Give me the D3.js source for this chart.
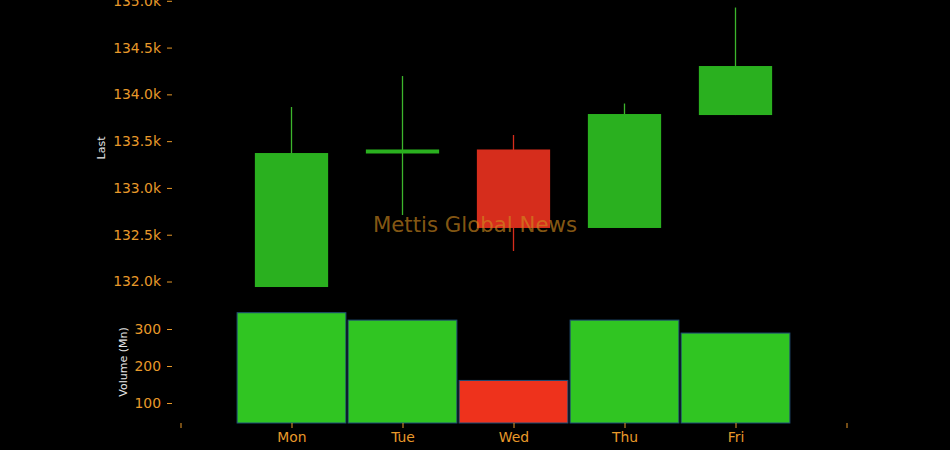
<!DOCTYPE html>
<html><head><meta charset="utf-8">
<script src="https://cdn.jsdelivr.net/npm/d3@7"></script>
<style>html,body{margin:0;padding:0;background:#000;}svg{display:block;}</style>
</head><body>
<script>
const days = ["Mon","Tue","Wed","Thu","Fri"];
const openV  = [131941, 133368, 133411, 132572, 133779];
const highV  = [133865, 134196, 133566, 133902, 134928];
const lowV   = [131941, 132711, 132326, 132572, 133779];
const closeV = [133373, 133411, 132572, 133790, 134303];
const volume = [344, 324, 161, 324, 289];
const priceTicks = [132000, 132500, 133000, 133500, 134000, 134500, 135000];
const volTicks = [100, 200, 300];

const W = 950, H = 450;
const svg = d3.select("body").append("svg").attr("width", W).attr("height", H)
  .style("background", "#000").style("font-family", "DejaVu Sans, sans-serif");

const x = d3.scaleLinear().domain([-1, 5]).range([180.5, 846.5]);
const yP = d3.scaleLinear().domain([132000, 135000]).range([281.5, 0.8]);
const yV = d3.scaleLinear().domain([100, 300]).range([403, 329]);
const volBottom = 423;
const axisX = 172;
const tickCol = "#e8992a";

const green = "#2ab01f", red = "#d62d1c";
const volGreen = "#30c522", volRed = "#ee321c";

const data = days.map((d, i) => ({d, i, o: openV[i], h: highV[i], l: lowV[i], c: closeV[i], v: volume[i]}));
const cw = 0.33;
const g = svg.append("g");
g.selectAll("line.wick").data(data).join("line")
  .attr("x1", d => x(d.i)).attr("x2", d => x(d.i))
  .attr("y1", d => yP(d.h)).attr("y2", d => yP(d.l))
  .attr("stroke", d => d.c >= d.o ? "#3cb52c" : red).attr("stroke-width", 1.3);
g.selectAll("rect.body").data(data).join("rect")
  .attr("x", d => x(d.i - cw)).attr("width", d => x(d.i + cw) - x(d.i - cw))
  .attr("y", d => yP(Math.max(d.o, d.c)))
  .attr("height", d => Math.max(1, Math.abs(yP(d.o) - yP(d.c))))
  .attr("fill", d => d.c >= d.o ? green : red);

const bw = 0.49;
svg.append("g").selectAll("rect").data(data).join("rect")
  .attr("x", d => x(d.i - bw)).attr("width", d => x(d.i + bw) - x(d.i - bw))
  .attr("y", d => yV(d.v)).attr("height", d => volBottom - yV(d.v))
  .attr("fill", d => d.c >= d.o ? volGreen : volRed)
  .attr("stroke", "#1f4f78").attr("stroke-width", 1);

svg.append("text").attr("x", 475).attr("y", 232).attr("text-anchor", "middle")
  .attr("font-size", 21.3).attr("fill", "#d08a1f").attr("fill-opacity", 0.65)
  .text("Mettis Global News");

function styleAxis(sel) {
  sel.select(".domain").remove();
  sel.selectAll(".tick line").attr("stroke", tickCol);
  sel.selectAll(".tick text").attr("fill", tickCol).style("font-family", "DejaVu Sans, sans-serif").attr("font-size", 13.9);
}

const fmtP = v => (v / 1000).toFixed(1) + "k";
svg.append("g").attr("transform", `translate(${axisX},0)`)
  .call(d3.axisLeft(yP).tickValues(priceTicks).tickFormat(fmtP).tickSize(5).tickPadding(6))
  .call(styleAxis);
svg.append("g").attr("transform", `translate(${axisX},0)`)
  .call(d3.axisLeft(yV).tickValues(volTicks).tickFormat(d3.format("d")).tickSize(5).tickPadding(6))
  .call(styleAxis);

const xTickVals = [-1, 0, 1, 2, 3, 4, 5];
svg.append("g").attr("transform", `translate(0,${volBottom})`)
  .call(d3.axisBottom(x).tickValues(xTickVals).tickFormat(i => days[i] || "").tickSize(5).tickPadding(4))
  .call(styleAxis);

svg.append("text").attr("transform", "translate(105,148) rotate(-90)")
  .attr("text-anchor", "middle").attr("font-size", 11).attr("fill", "#e6e6e6").text("Last");
svg.append("text").attr("transform", "translate(127,362) rotate(-90)")
  .attr("text-anchor", "middle").attr("font-size", 11).attr("fill", "#e6e6e6").text("Volume (Mn)");
</script>
</body></html>
